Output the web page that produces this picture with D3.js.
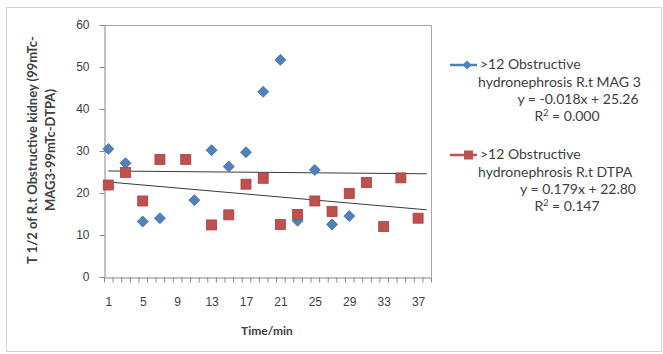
<!DOCTYPE html>
<html>
<head>
<meta charset="utf-8">
<script src="https://cdn.jsdelivr.net/npm/d3@7"></script>
<style>
  body { margin: 0; background: #fff; }
  svg { display: block; font-family: Lato, "Open Sans", sans-serif; }
  .axis path, .axis line { stroke: #868686; }
  .axis text { fill: #404040; font-size: 12px; }
</style>
</head>
<body>
<div id="chart"></div>
<script>
// category axis: 38 slots, labelled every 4th
var categoryCount = 38
var xTickLabels = [1, 5, 9, 13, 17, 21, 25, 29, 33, 37]
var yTicks = [0, 10, 20, 30, 40, 50, 60]

// >12 Obstructive hydronephrosis R.t MAG 3
var mag3X = [1, 3, 5, 7, 11, 13, 15, 17, 19, 21, 23, 25, 27, 29]
var mag3Y = [30.5, 27.1, 13.2, 14.0, 18.3, 30.2, 26.3, 29.7, 44.1, 51.7, 13.4, 25.5, 12.5, 14.5]

// >12 Obstructive hydronephrosis R.t DTPA
var dtpaX = [1, 3, 5, 7, 10, 13, 15, 17, 19, 21, 23, 25, 27, 29, 31, 33, 35, 37]
var dtpaY = [21.9, 24.9, 18.1, 28.0, 28.0, 12.4, 14.8, 22.1, 23.5, 12.5, 14.9, 18.1, 15.6, 19.9, 22.5, 12.0, 23.6, 14.0]

// linear trendlines (slope, intercept) as drawn
var trendSlopes = [-0.018, -0.179]
var trendIntercepts = [25.26, 22.80]

var seriesNames = [['>12 Obstructive', 'hydronephrosis R.t MAG 3'], ['>12 Obstructive', 'hydronephrosis R.t DTPA']]
var equationLabels = ['y = -0.018x + 25.26', 'y = 0.179x + 22.80']
var rSquaredLabels = ['0.000', '0.147']
var seriesColors = ['#4F81BD', '#C0504D']

var W = 663, H = 354
var svg = d3.select('#chart').append('svg').attr('width', W).attr('height', H)

// outer chart frame
svg.append('rect')
  .attr('x', 6.5).attr('y', 7.5).attr('width', 655).attr('height', 344)
  .attr('fill', '#fff').attr('stroke', '#d4d4d4')

var plot = {left: 104, right: 431, top: 25, bottom: 277}

var x = d3.scaleLinear().domain([0.5, categoryCount + 0.5]).range([plot.left, plot.right])
var y = d3.scaleLinear().domain([0, 60]).range([plot.bottom, plot.top])

// plot area border (top/right)
svg.append('path')
  .attr('d', 'M' + plot.left + ',' + (plot.top + 0.5) + 'H' + (plot.right + 0.5) + 'V' + plot.bottom)
  .attr('fill', 'none').attr('stroke', '#a6a6a6')

// y axis
svg.append('g').attr('class', 'axis')
  .attr('transform', 'translate(' + (plot.left + 0.5) + ',0)')
  .call(d3.axisLeft(y).tickValues(yTicks).tickSize(5).tickSizeOuter(0).tickPadding(10))

// x axis: ticks between categories
var boundaries = d3.range(0, categoryCount + 1).map(d => d + 0.5)
svg.append('g').attr('class', 'axis')
  .attr('transform', 'translate(0,' + (plot.bottom + 0.5) + ')')
  .call(d3.axisBottom(x).tickValues(boundaries).tickSize(5).tickSizeOuter(0).tickFormat(''))

// x labels at category centres
var xl = svg.append('g').attr('class', 'axis')
  .attr('transform', 'translate(0,' + (plot.bottom + 0.5) + ')')
  .call(d3.axisBottom(x).tickValues(xTickLabels).tickSize(0).tickPadding(20))
xl.select('.domain').remove()

// axis titles
svg.append('text')
  .attr('x', 267).attr('y', 335)
  .attr('text-anchor', 'middle')
  .style('font-size', '12px').style('font-weight', 'bold').attr('fill', '#404040')
  .text('Time/min')

var yTitle = svg.append('text')
  .attr('transform', 'translate(0,150) rotate(-90)')
  .attr('text-anchor', 'middle')
  .style('font-size', '13px').style('font-weight', 'bold').attr('fill', '#404040')
yTitle.append('tspan').attr('x', 0).attr('y', 37).text('T 1/2 of R.t Obstructive kidney (99mTc-')
yTitle.append('tspan').attr('x', 0).attr('y', 55).text('MAG3-99mTc-DTPA)')

// trendlines
var trendLine = d3.line().x(d => x(d[0])).y(d => y(d[1]))
trendSlopes.forEach(function(m, i) {
  var pts = [1, categoryCount].map(v => [v, m * v + trendIntercepts[i]])
  svg.append('path')
    .attr('d', trendLine(pts))
    .attr('fill', 'none').attr('stroke', '#3a3a3a').attr('stroke-width', 1)
})

// markers
function diamond(cx, cy, r) {
  return 'M' + cx + ',' + (cy - r) + 'L' + (cx + r) + ',' + cy + 'L' + cx + ',' + (cy + r) + 'L' + (cx - r) + ',' + cy + 'Z'
}

svg.append('g').selectAll('path')
  .data(mag3X.map((v, i) => [v, mag3Y[i]]))
  .join('path')
  .attr('d', d => diamond(x(d[0]), y(d[1]), 5.5))
  .attr('fill', seriesColors[0]).attr('stroke', '#3f6c9f').attr('stroke-width', 0.8)

svg.append('g').selectAll('rect')
  .data(dtpaX.map((v, i) => [v, dtpaY[i]]))
  .join('rect')
  .attr('x', d => x(d[0]) - 5).attr('y', d => y(d[1]) - 5)
  .attr('width', 10).attr('height', 10)
  .attr('fill', seriesColors[1]).attr('stroke', '#a3413e').attr('stroke-width', 0.8)

// legend
var legendTop = [69, 159]
seriesNames.forEach(function(names, i) {
  var g = svg.append('g').attr('transform', 'translate(0,' + legendTop[i] + ')')
  g.append('line').attr('x1', 450).attr('x2', 477).attr('y1', -4).attr('y2', -4)
    .attr('stroke', seriesColors[i]).attr('stroke-width', 2.5)
  if (i === 0) g.append('path').attr('d', diamond(467, -4, 4.5)).attr('fill', seriesColors[i])
  else g.append('rect').attr('x', 464).attr('y', -8.5).attr('width', 9).attr('height', 9).attr('fill', seriesColors[i])

  var t = g.append('g').style('font-size', '14px').attr('fill', '#404040')
  t.append('text').attr('x', 480).attr('y', 0).text(names[0])
  t.append('text').attr('x', 478).attr('y', 18).text(names[1])
  t.append('text').attr('x', 578).attr('y', 35).attr('text-anchor', 'middle').text(equationLabels[i])
  var r2 = t.append('text').attr('x', 567).attr('y', 52).attr('text-anchor', 'middle')
  r2.append('tspan').text('R')
  r2.append('tspan').attr('dy', -5).style('font-size', '9px').text('2')
  r2.append('tspan').attr('dy', 5).text(' = ' + rSquaredLabels[i])
})
</script>
</body>
</html>
